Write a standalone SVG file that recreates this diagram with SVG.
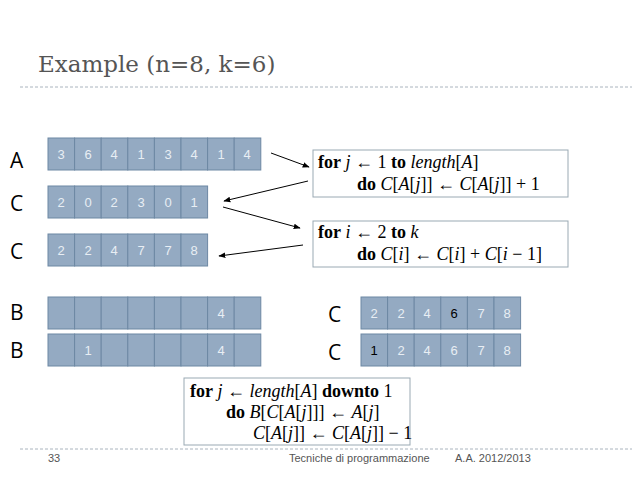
<svg xmlns="http://www.w3.org/2000/svg" width="638" height="479" viewBox="0 0 638 479">
<style>
.c{fill:#94aac2;stroke:#6d88a3;stroke-width:1}
.v{font-family:"Liberation Sans",sans-serif;font-size:13px;fill:#e8eef4;text-anchor:middle}
.lb{font-family:"Open Sans","Liberation Sans",sans-serif;font-size:21px;fill:#000}
.code{fill:#fff;stroke:#9aa9b3;stroke-width:1}
.m{font-family:"Liberation Serif","DejaVu Serif",serif;font-size:18px;fill:#000}
.d{stroke:#aab4be;stroke-width:1;stroke-dasharray:3,2;fill:none}
.f{font-family:"Liberation Sans",sans-serif;font-size:11px;fill:#555}
</style>
<defs><marker id="ah" viewBox="0 0 10 10" refX="9" refY="5" markerWidth="7" markerHeight="7" orient="auto"><path d="M0,1L10,5L0,9z" fill="#000"/></marker></defs>
<rect width="638" height="479" fill="#fff"/>
<text x="38" y="72" font-family="DejaVu Serif,serif" font-size="23" fill="#555">Example (n=8, k=6)</text>
<path class="d" d="M20,87H632M20,449H632"/>
<g id="labels">
<text class="lb" x="10" y="168">A</text><text class="lb" x="10" y="211">C</text><text class="lb" x="10" y="259">C</text>
<text class="lb" x="10" y="320">B</text><text class="lb" x="10" y="358">B</text>
<text class="lb" x="328" y="322">C</text><text class="lb" x="328" y="360">C</text>
</g>
<g id="A">
<rect class="c" x="48" y="138" width="26.6" height="32"/><rect class="c" x="74.6" y="138" width="26.6" height="32"/><rect class="c" x="101.2" y="138" width="26.6" height="32"/><rect class="c" x="127.8" y="138" width="26.6" height="32"/><rect class="c" x="154.4" y="138" width="26.6" height="32"/><rect class="c" x="181" y="138" width="26.6" height="32"/><rect class="c" x="207.6" y="138" width="26.6" height="32"/><rect class="c" x="234.2" y="138" width="26.6" height="32"/>
<text class="v" y="159"><tspan x="61">3</tspan><tspan x="88">6</tspan><tspan x="114">4</tspan><tspan x="141">1</tspan><tspan x="168">3</tspan><tspan x="194">4</tspan><tspan x="221">1</tspan><tspan x="247">4</tspan></text>
</g>
<g id="C1">
<rect class="c" x="48" y="186" width="26.6" height="32"/><rect class="c" x="74.6" y="186" width="26.6" height="32"/><rect class="c" x="101.2" y="186" width="26.6" height="32"/><rect class="c" x="127.8" y="186" width="26.6" height="32"/><rect class="c" x="154.4" y="186" width="26.6" height="32"/><rect class="c" x="181" y="186" width="26.6" height="32"/>
<text class="v" y="207"><tspan x="61">2</tspan><tspan x="88">0</tspan><tspan x="114">2</tspan><tspan x="141">3</tspan><tspan x="168">0</tspan><tspan x="194">1</tspan></text>
</g>
<g id="C2">
<rect class="c" x="48" y="234" width="26.6" height="32"/><rect class="c" x="74.6" y="234" width="26.6" height="32"/><rect class="c" x="101.2" y="234" width="26.6" height="32"/><rect class="c" x="127.8" y="234" width="26.6" height="32"/><rect class="c" x="154.4" y="234" width="26.6" height="32"/><rect class="c" x="181" y="234" width="26.6" height="32"/>
<text class="v" y="255"><tspan x="61">2</tspan><tspan x="88">2</tspan><tspan x="114">4</tspan><tspan x="141">7</tspan><tspan x="168">7</tspan><tspan x="194">8</tspan></text>
</g>
<g id="B1">
<rect class="c" x="48" y="297" width="26.6" height="32"/><rect class="c" x="74.6" y="297" width="26.6" height="32"/><rect class="c" x="101.2" y="297" width="26.6" height="32"/><rect class="c" x="127.8" y="297" width="26.6" height="32"/><rect class="c" x="154.4" y="297" width="26.6" height="32"/><rect class="c" x="181" y="297" width="26.6" height="32"/><rect class="c" x="207.6" y="297" width="26.6" height="32"/><rect class="c" x="234.2" y="297" width="26.6" height="32"/>
<text class="v" x="221" y="318">4</text>
</g>
<g id="B2">
<rect class="c" x="48" y="334" width="26.6" height="32"/><rect class="c" x="74.6" y="334" width="26.6" height="32"/><rect class="c" x="101.2" y="334" width="26.6" height="32"/><rect class="c" x="127.8" y="334" width="26.6" height="32"/><rect class="c" x="154.4" y="334" width="26.6" height="32"/><rect class="c" x="181" y="334" width="26.6" height="32"/><rect class="c" x="207.6" y="334" width="26.6" height="32"/><rect class="c" x="234.2" y="334" width="26.6" height="32"/>
<text class="v" y="355"><tspan x="88">1</tspan><tspan x="221">4</tspan></text>
</g>
<g id="C3">
<rect class="c" x="361" y="297" width="26.6" height="32"/><rect class="c" x="387.6" y="297" width="26.6" height="32"/><rect class="c" x="414.2" y="297" width="26.6" height="32"/><rect class="c" x="440.8" y="297" width="26.6" height="32"/><rect class="c" x="467.4" y="297" width="26.6" height="32"/><rect class="c" x="494" y="297" width="26.6" height="32"/>
<text class="v" y="318"><tspan x="374">2</tspan><tspan x="401">2</tspan><tspan x="427">4</tspan><tspan x="454" fill="#000">6</tspan><tspan x="481">7</tspan><tspan x="507">8</tspan></text>
</g>
<g id="C4">
<rect class="c" x="361" y="334" width="26.6" height="32"/><rect class="c" x="387.6" y="334" width="26.6" height="32"/><rect class="c" x="414.2" y="334" width="26.6" height="32"/><rect class="c" x="440.8" y="334" width="26.6" height="32"/><rect class="c" x="467.4" y="334" width="26.6" height="32"/><rect class="c" x="494" y="334" width="26.6" height="32"/>
<text class="v" y="355"><tspan x="374" fill="#000">1</tspan><tspan x="401">2</tspan><tspan x="427">4</tspan><tspan x="454">6</tspan><tspan x="481">7</tspan><tspan x="507">8</tspan></text>
</g>
<g id="code1">
<rect class="code" x="313" y="150" width="255" height="47"/>
<text class="m" x="318" y="168"><tspan font-weight="bold">for</tspan> <tspan font-style="italic">j</tspan> ← 1 <tspan font-weight="bold">to</tspan> <tspan font-style="italic">length</tspan>[<tspan font-style="italic">A</tspan>]</text>
<text class="m" x="357" y="190"><tspan font-weight="bold">do</tspan> <tspan font-style="italic">C</tspan>[<tspan font-style="italic">A</tspan>[<tspan font-style="italic">j</tspan>]] ← <tspan font-style="italic">C</tspan>[<tspan font-style="italic">A</tspan>[<tspan font-style="italic">j</tspan>]] + 1</text>
</g>
<g id="code2">
<rect class="code" x="313" y="221" width="255" height="46"/>
<text class="m" x="318" y="238"><tspan font-weight="bold">for</tspan> <tspan font-style="italic">i</tspan> ← 2 <tspan font-weight="bold">to</tspan> <tspan font-style="italic">k</tspan></text>
<text class="m" x="357" y="260"><tspan font-weight="bold">do</tspan> <tspan font-style="italic">C</tspan>[<tspan font-style="italic">i</tspan>] ← <tspan font-style="italic">C</tspan>[<tspan font-style="italic">i</tspan>] + <tspan font-style="italic">C</tspan>[<tspan font-style="italic">i</tspan> − 1]</text>
</g>
<g id="code3">
<rect class="code" x="184" y="378" width="226" height="67"/>
<text class="m" x="190" y="397"><tspan font-weight="bold">for</tspan> <tspan font-style="italic">j</tspan> ← <tspan font-style="italic">length</tspan>[<tspan font-style="italic">A</tspan>] <tspan font-weight="bold">downto</tspan> 1</text>
<text class="m" x="226" y="418"><tspan font-weight="bold">do</tspan> <tspan font-style="italic">B</tspan>[<tspan font-style="italic">C</tspan>[<tspan font-style="italic">A</tspan>[<tspan font-style="italic">j</tspan>]]] ← <tspan font-style="italic">A</tspan>[<tspan font-style="italic">j</tspan>]</text>
<text class="m" x="253" y="439"><tspan font-style="italic">C</tspan>[<tspan font-style="italic">A</tspan>[<tspan font-style="italic">j</tspan>]] ← <tspan font-style="italic">C</tspan>[<tspan font-style="italic">A</tspan>[<tspan font-style="italic">j</tspan>]] − 1</text>
</g>
<g id="connectors" stroke="#000" stroke-width="1" fill="none" marker-end="url(#ah)">
<path d="M271,153L309,167"/>
<path d="M308,181L224,201"/>
<path d="M223,207L300,228"/>
<path d="M303,245L219,256"/>
</g>
<text class="f" x="48" y="462">33</text>
<text class="f" x="289" y="462">Tecniche di programmazione</text>
<text class="f" x="455" y="462">A.A. 2012/2013</text>
</svg>
